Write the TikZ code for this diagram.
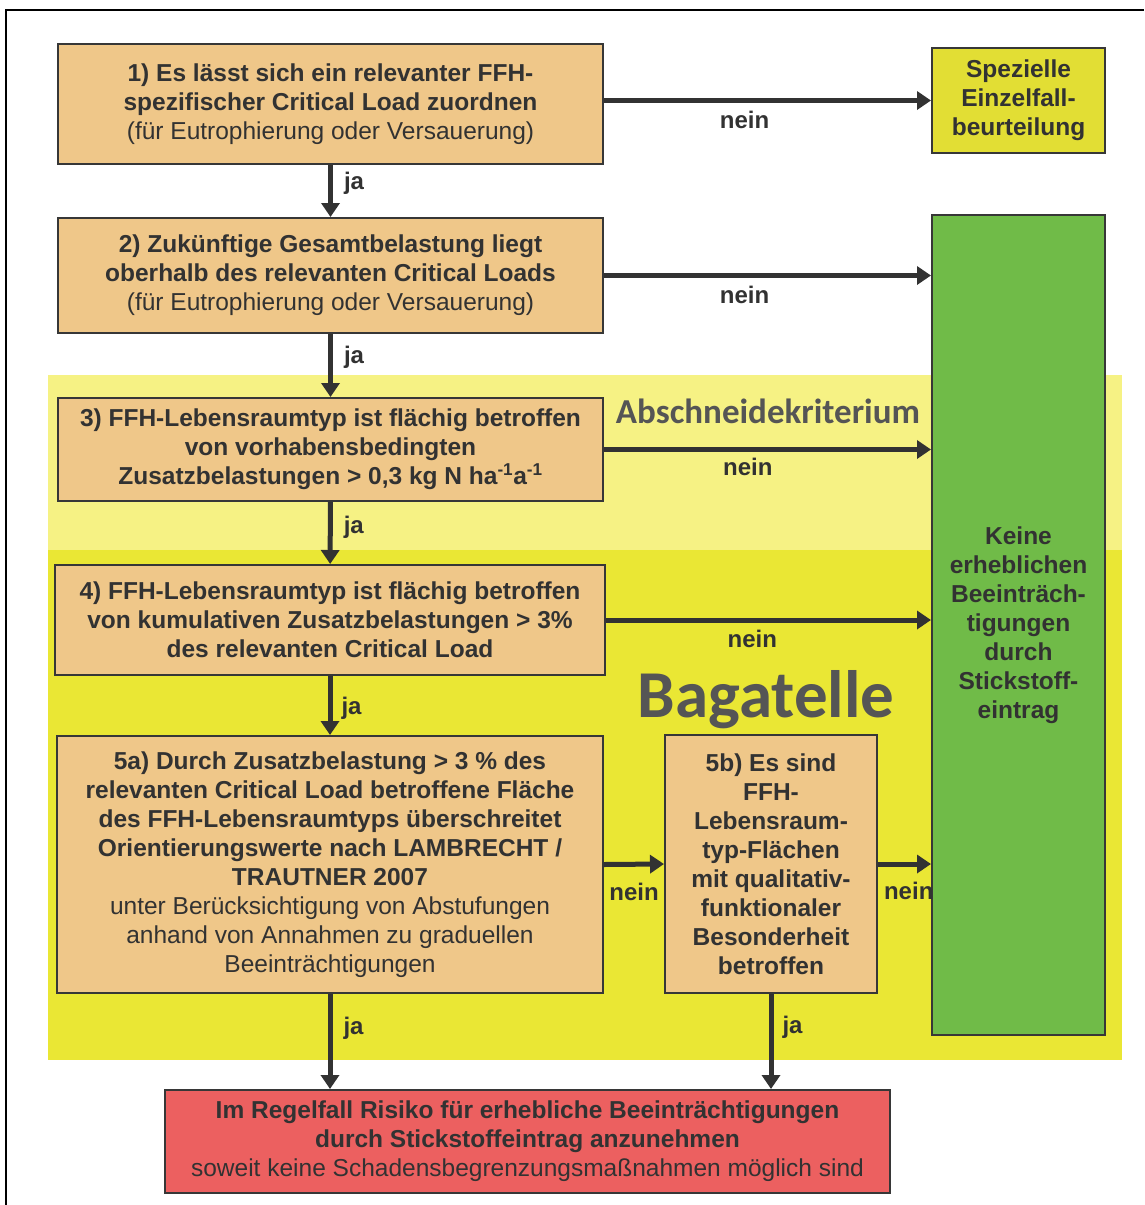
\documentclass[tikz,border=0pt]{standalone}
\usepackage{fontspec}
\setmainfont{Liberation Sans}
\newfontfamily\calfont{Carlito}
\usetikzlibrary{arrows.meta}
\definecolor{boxtan}{RGB}{239,199,137}
\definecolor{boxline}{RGB}{55,55,55}
\definecolor{ink}{RGB}{50,50,50}
\definecolor{spezyellow}{RGB}{226,222,52}
\definecolor{keinegreen}{RGB}{112,187,72}
\definecolor{riskred}{RGB}{236,96,96}
\definecolor{paleyellow}{RGB}{246,242,132}
\definecolor{bagyellow}{RGB}{234,231,52}
\definecolor{baggray}{RGB}{85,85,85}
\begin{document}
\begin{tikzpicture}[x=1pt,y=-1pt,
  box/.style={draw=boxline, line width=2pt, fill=boxtan, text=ink, align=center,
    inner sep=0pt, font=\fontsize{24.5}{29}\selectfont\bfseries},
  arr/.style={draw=ink, line width=5pt, -{Triangle[length=14pt,width=18pt]}},
  lbl/.style={text=ink, inner sep=3pt, font=\fontsize{24}{26}\selectfont\bfseries}]
\useasboundingbox (0,0) rectangle (1144,1205);
% frame and coloured background
\draw[line width=2pt] (6,1205) -- (6,10) -- (1144,10);
\fill[paleyellow] (48,375) rectangle (1122,550);
\fill[bagyellow] (48,550) rectangle (1122,1060);
% boxes
\node[box, minimum width=545pt, minimum height=120pt] (q1) at (330.5,104)
  {1) Es lässt sich ein relevanter FFH-\\spezifischer Critical Load zuordnen\\
   \mdseries (für Eutrophierung oder Versauerung)};
\node[box, minimum width=545pt, minimum height=115pt] (q2) at (330.5,275.5)
  {2) Zukünftige Gesamtbelastung liegt\\oberhalb des relevanten Critical Loads\\
   \mdseries (für Eutrophierung oder Versauerung)};
\node[box, minimum width=545pt, minimum height=103pt] (q3) at (330.5,449.5)
  {3) FFH-Lebensraumtyp ist flächig betroffen\\von vorhabensbedingten\\
   Zusatzbelastungen > 0,3 kg N ha\textsuperscript{-1}a\textsuperscript{-1}};
\node[box, minimum width=550pt, minimum height=110pt] (q4) at (330,620)
  {4) FFH-Lebensraumtyp ist flächig betroffen\\von kumulativen Zusatzbelastungen > 3\%\\
   des relevanten Critical Load};
\node[box, minimum width=546pt, minimum height=257pt] (q5a) at (330,864.5)
  {5a) Durch Zusatzbelastung > 3 \% des\\relevanten Critical Load betroffene Fläche\\
   des FFH-Lebensraumtyps überschreitet\\Orientierungswerte nach LAMBRECHT /\\
   TRAUTNER 2007\\\mdseries unter Berücksichtigung von Abstufungen\\
   \mdseries anhand von Annahmen zu graduellen\\\mdseries Beeinträchtigungen};
\node[box, minimum width=212pt, minimum height=258pt] (q5b) at (771,864)
  {5b) Es sind\\FFH-\\Lebensraum-\\typ-Flächen\\mit qualitativ-\\funktionaler\\
   Besonderheit\\betroffen};
\node[box, fill=spezyellow, minimum width=173pt, minimum height=105pt] (spez) at (1018.5,100.5)
  {Spezielle\\Einzelfall-\\beurteilung};
\node[box, fill=keinegreen, minimum width=173pt, minimum height=820pt] (keine) at (1018.5,625)
  {Keine\\erheblichen\\Beeinträch-\\tigungen\\durch\\Stickstoff-\\eintrag};
\node[box, fill=riskred, minimum width=725pt, minimum height=103pt] (risk) at (527.5,1141.5)
  {Im Regelfall Risiko für erhebliche Beeinträchtigungen\\durch Stickstoffeintrag anzunehmen\\
   \mdseries soweit keine Schadensbegrenzungsmaßnahmen möglich sind};
\node[text=baggray, inner sep=0pt, font=\calfont\bfseries\fontsize{35}{35}\selectfont] (abschn) at (768,411)
  {Abschneidekriterium};
\node[text=baggray, inner sep=0pt, font=\calfont\bfseries\fontsize{67}{67}\selectfont] (bagatelle) at (766,700)
  {Bagatelle};
% ja
\draw[arr] (q1) -- node[lbl, right=8pt, pos=.35] {ja} (q2);
\draw[arr] (q2) -- node[lbl, right=8pt, pos=.37] {ja} (q3);
\draw[arr] (q3) -- node[lbl, right=8pt, pos=.4] {ja} (q4);
\draw[arr] (q4) -- node[lbl, right=6pt, pos=.54] {ja} (q5a);
\draw[arr] (q5a) -- node[lbl, right=8pt, pos=.36] {ja} (q5a.south |- risk.north);
\draw[arr] (q5b) -- node[lbl, right=6pt, pos=.35] {ja} (q5b.south |- risk.north);
% nein
\draw[arr] (spez.west -| q1.east) -- node[lbl, below=5pt, pos=.43] {nein} (spez.west);
\draw[arr] (q2.east) -- node[lbl, below=5pt, pos=.43] {nein} (q2.east -| keine.west);
\draw[arr] (q3.east) -- node[lbl, below=3pt, pos=.44] {nein} (q3.east -| keine.west);
\draw[arr] (q4.east) -- node[lbl, below=5pt, pos=.45] {nein} (q4.east -| keine.west);
\draw[arr] (q5a.east) -- node[lbl, below=13pt] {nein} (q5b.west);
\draw[arr] (q5b.east) -- node[lbl, below=13pt, pos=.58] {nein} (q5b.east -| keine.west);
\end{tikzpicture}
\end{document}
